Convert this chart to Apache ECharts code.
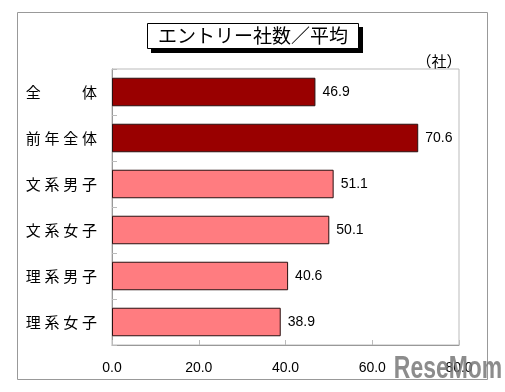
<!DOCTYPE html>
<html><head><meta charset="utf-8">
<script src="https://cdn.jsdelivr.net/npm/echarts@6/dist/echarts.min.js"></script>
<style>html,body{margin:0;padding:0;background:#fff}#c{width:505px;height:392px}</style>
</head><body><div id="c"></div>
<script>
var categories = ['全　体', '前年全体', '文系男子', '文系女子', '理系男子', '理系女子'];
var values = [46.9, 70.6, 51.1, 50.1, 40.6, 38.9];
var barColors = ['#990000', '#990000', '#FF7C80', '#FF7C80', '#FF7C80', '#FF7C80'];
var xTicks = [0, 20, 40, 60, 80];
var titleText = 'エントリー社数／平均';
var unitText = '（社）';

var chart = echarts.init(document.getElementById('c'), null, {renderer: 'canvas'});
var cjk = '"Noto Sans CJK JP", "Noto Sans", sans-serif';
var num = '"Liberation Sans", Arial, sans-serif';
chart.setOption({
  animation: false,
  backgroundColor: '#fff',
  grid: {left: 112, right: 46, top: 69, bottom: 47, show: true, borderColor: '#bbb', borderWidth: 1, backgroundColor: 'transparent'},
  xAxis: {
    type: 'value', min: xTicks[0], max: xTicks[xTicks.length - 1], interval: 20,
    axisLine: {show: true, lineStyle: {color: '#999'}},
    axisTick: {show: true, inside: true, length: 5, lineStyle: {color: '#bbb'}},
    splitLine: {show: false},
    axisLabel: {margin: 16, color: '#000', fontSize: 14, fontFamily: num, formatter: function (v) { return v.toFixed(1); }}
  },
  yAxis: {
    type: 'category', data: categories, inverse: true,
    axisLine: {show: true, lineStyle: {color: '#999'}},
    axisTick: {show: true, inside: true, length: 5, lineStyle: {color: '#bbb'}},
    axisLabel: {margin: 15, color: '#000', fontSize: 15, fontFamily: cjk,
      formatter: function (v) {
        if (v.length === 3) return v.replace('　', '\u3000\u3000\u2005\u2005\u2005');
        return v.split('').join('\u2005');
      }}
  },
  series: [{
    type: 'bar', barCategoryGap: '38%',
    data: values.map(function (v, i) { return {value: v, itemStyle: {color: barColors[i]}}; }),
    itemStyle: {borderColor: '#2a1010', borderWidth: 1},
    label: {show: true, position: 'right', distance: 7, color: '#000', fontSize: 14, fontFamily: num,
      formatter: function (p) { return p.value.toFixed(1); }}
  }],
  graphic: [
    {type: 'rect', shape: {x: 17.5, y: 12.5, width: 470, height: 367}, style: {fill: 'none', stroke: '#999', lineWidth: 1}, z: -1, silent: true},
    {type: 'rect', shape: {x: 151, y: 27, width: 212, height: 26}, style: {fill: '#000'}, z: 10},
    {type: 'rect', shape: {x: 147.5, y: 23.5, width: 211, height: 25}, style: {fill: '#fff', stroke: '#000', lineWidth: 1}, z: 11},
    {type: 'text', x: 253, y: 36, style: {text: titleText, font: '19px ' + cjk, fill: '#000', align: 'center', verticalAlign: 'middle'}, z: 12},
    {type: 'text', x: 439, y: 61, style: {text: unitText, font: '15px ' + cjk, fill: '#000', align: 'center', verticalAlign: 'middle'}, z: 12},
    {type: 'text', x: 448, y: 369, scaleX: 0.74, style: {text: 'ReseMom', font: 'bold 31px "Liberation Sans", sans-serif', fill: 'rgba(120,120,120,0.85)', align: 'center', verticalAlign: 'middle'}, z: 20}
  ]
});
</script></body></html>
